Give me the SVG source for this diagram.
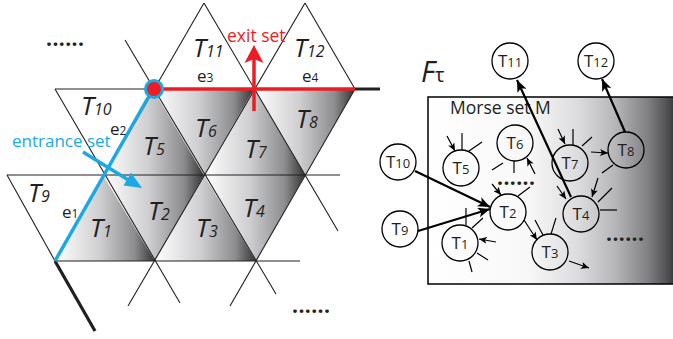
<svg xmlns="http://www.w3.org/2000/svg" width="673" height="339" viewBox="0 0 673 339">
<defs>
<linearGradient id="tri" x1="0" y1="0" x2="1" y2="0">
<stop offset="0" stop-color="#ffffff"/>
<stop offset="0.45" stop-color="#cfcfd1"/>
<stop offset="0.8" stop-color="#8c8c8e"/>
<stop offset="1" stop-color="#333333"/>
</linearGradient>
<linearGradient id="morse" x1="0" y1="0" x2="1" y2="0">
<stop offset="0" stop-color="#ffffff"/>
<stop offset="0.4" stop-color="#f8f8f8"/>
<stop offset="0.6" stop-color="#dcdcde"/>
<stop offset="0.75" stop-color="#b6b6b9"/>
<stop offset="0.88" stop-color="#808083"/>
<stop offset="0.95" stop-color="#555557"/>
<stop offset="1" stop-color="#2e2e2e"/>
</linearGradient>
<marker id="a" markerUnits="userSpaceOnUse" markerWidth="9" markerHeight="7" refX="8" refY="3.5" orient="auto">
<path d="M0,0 L8,3.5 L0,7 L2,3.5 z" fill="#000"/>
</marker>
<marker id="A" markerUnits="userSpaceOnUse" markerWidth="13" markerHeight="10" refX="12" refY="5" orient="auto">
<path d="M0,0 L12,5 L0,10 L3,5 z" fill="#000"/>
</marker>
</defs>
<style>
.ln{stroke:#231f20;stroke-width:1.1;fill:none}
.tl{font-family:"Open Sans","DejaVu Sans",sans-serif;font-style:italic;font-size:26px;fill:#231f20}
.tl tspan{font-size:16px}
.el{font-family:"Open Sans","DejaVu Sans",sans-serif;font-size:17px;fill:#231f20}
.el tspan{font-size:12px}
.dots{font-family:"Open Sans","DejaVu Sans",sans-serif;font-size:21px;font-weight:bold;fill:#231f20;letter-spacing:0.4px}
.node circle{fill:none;stroke:#000;stroke-width:1.3}
.node text{font-family:"Open Sans","DejaVu Sans",sans-serif;font-size:17px;fill:#231f20;text-anchor:middle}
.node text tspan{font-size:13px}
.thin{stroke:#000;stroke-width:1.2;fill:none}
.thick{stroke:#000;stroke-width:2.2;fill:none}
</style>

<!-- left: shaded triangles -->
<g id="shaded">
<polygon points="103,175 55,261 155,261" fill="url(#tri)"/>
<polygon points="103,175 204,175 155,261" fill="url(#tri)"/>
<polygon points="204,175 155,261 256,261" fill="url(#tri)"/>
<polygon points="204,175 305,175 256,261" fill="url(#tri)"/>
<polygon points="153,89 103,175 204,175" fill="url(#tri)"/>
<polygon points="153,89 254,89 204,175" fill="url(#tri)"/>
<polygon points="254,89 204,175 305,175" fill="url(#tri)"/>
<polygon points="254,89 355,89 305,175" fill="url(#tri)"/>
</g>

<g id="grid">
<line class="ln" x1="55" y1="89" x2="355" y2="89"/>
<line class="ln" x1="7" y1="175" x2="340" y2="175"/>
<line class="ln" x1="55" y1="261" x2="300" y2="261"/>
<line class="ln" x1="55" y1="261" x2="204" y2="3"/>
<line class="ln" x1="128" y1="306" x2="305" y2="3"/>
<line class="ln" x1="230" y1="306" x2="355" y2="89"/>
<line class="ln" x1="7" y1="175" x2="55" y2="261"/>
<line class="ln" x1="55" y1="89" x2="180" y2="303"/>
<line class="ln" x1="125" y1="40" x2="276" y2="294"/>
<line class="ln" x1="204" y1="3" x2="338" y2="231"/>
<line class="ln" x1="305" y1="3" x2="355" y2="89"/>
<line x1="55" y1="261" x2="95" y2="331" stroke="#231f20" stroke-width="3.2"/>
<line x1="353" y1="89" x2="380" y2="89" stroke="#231f20" stroke-width="3"/>
</g>

<g id="entrance">
<line x1="55" y1="261" x2="153" y2="89" stroke="#1ba9e1" stroke-width="3.5"/>
<line x1="83" y1="152" x2="130" y2="181" stroke="#1ba9e1" stroke-width="3.5"/>
<polygon points="142,188 123.5,185.5 127.5,179 131,172.5" fill="#1ba9e1"/>
<text x="12" y="147" font-family="'Open Sans','DejaVu Sans',sans-serif" font-size="17" fill="#1ba9e1">entrance set</text>
</g>

<g id="exit">
<line x1="162" y1="89" x2="355" y2="89" stroke="#ed1c24" stroke-width="3.5"/>
<line x1="254" y1="111" x2="254" y2="58" stroke="#ed1c24" stroke-width="3.5"/>
<polygon points="254,45 263.5,63 254,59 244.5,63" fill="#ed1c24"/>
<text x="227" y="42" font-family="'Open Sans','DejaVu Sans',sans-serif" font-size="17.5" fill="#ed1c24">exit set</text>
<circle cx="154" cy="89" r="8.5" fill="#ed1c24" stroke="#1ba9e1" stroke-width="3"/>
</g>

<g id="left-labels">
<text class="tl" x="193" y="57">T<tspan>11</tspan></text>
<text class="tl" x="294" y="57">T<tspan>12</tspan></text>
<text class="tl" x="81" y="115">T<tspan>10</tspan></text>
<text class="tl" x="143" y="155">T<tspan>5</tspan></text>
<text class="tl" x="195" y="137">T<tspan>6</tspan></text>
<text class="tl" x="245" y="158">T<tspan>7</tspan></text>
<text class="tl" x="296" y="128">T<tspan>8</tspan></text>
<text class="tl" x="28" y="202">T<tspan>9</tspan></text>
<text class="tl" x="90" y="237">T<tspan>1</tspan></text>
<text class="tl" x="148" y="220">T<tspan>2</tspan></text>
<text class="tl" x="196" y="237">T<tspan>3</tspan></text>
<text class="tl" x="243" y="217">T<tspan>4</tspan></text>
<text class="el" x="197" y="82">e<tspan>3</tspan></text>
<text class="el" x="302" y="82">e<tspan>4</tspan></text>
<text class="el" x="110" y="135">e<tspan>2</tspan></text>
<text class="el" x="62" y="218">e<tspan>1</tspan></text>
<text class="dots" x="46" y="46">......</text>
<text class="dots" x="292" y="313">......</text>
</g>

<!-- right -->
<g id="morse-set">
<rect x="428" y="97" width="250" height="187" fill="url(#morse)" stroke="#000" stroke-width="1.5"/>
<text x="450" y="114" font-family="'Open Sans','DejaVu Sans',sans-serif" font-size="17.5" fill="#231f20">Morse set  M</text>
<text x="421" y="82" font-family="'Open Sans','DejaVu Sans',sans-serif" font-size="29" font-style="italic" fill="#231f20">F<tspan font-size="20" font-style="normal">τ</tspan></text>
<text class="dots" x="497" y="185">......</text>
<text class="dots" x="606" y="241">......</text>
</g>

<g id="connectors">
<line class="thick" x1="415" y1="171" x2="490" y2="207" marker-end="url(#A)"/>
<line class="thick" x1="418" y1="231" x2="490" y2="209" marker-end="url(#A)"/>
<line class="thick" x1="571" y1="197" x2="517" y2="80" marker-end="url(#A)"/>
<line class="thick" x1="625" y1="132" x2="602" y2="79" marker-end="url(#A)"/>
<line class="thin" x1="447" y1="136" x2="455" y2="151" marker-end="url(#a)"/>
<line class="thin" x1="535" y1="174" x2="527" y2="158" marker-end="url(#a)"/>
<line class="thin" x1="558" y1="129" x2="565" y2="144" marker-end="url(#a)"/>
<line class="thin" x1="591" y1="152" x2="608" y2="153" marker-end="url(#a)"/>
<line class="thin" x1="557" y1="186" x2="566" y2="199" marker-end="url(#a)"/>
<line class="thin" x1="598" y1="178" x2="592" y2="197" marker-end="url(#a)"/>
<line class="thin" x1="492" y1="184" x2="501" y2="195" marker-end="url(#a)"/>
<line class="thin" x1="524" y1="220" x2="537" y2="240" marker-end="url(#a)"/>
<line class="thin" x1="496" y1="242" x2="479" y2="239" marker-end="url(#a)"/>
<line class="thin" x1="569" y1="261" x2="589" y2="268" marker-end="url(#a)"/>
<line class="thin" x1="462" y1="133" x2="462" y2="150"/>
<line class="thin" x1="469" y1="151" x2="482" y2="142"/>
<line class="thin" x1="492" y1="170" x2="503" y2="163"/>
<line class="thin" x1="514" y1="161" x2="514" y2="173"/>
<line class="thin" x1="573" y1="129" x2="573" y2="145"/>
<line class="thin" x1="582" y1="146" x2="592" y2="137"/>
<line class="thin" x1="602" y1="173" x2="613" y2="165"/>
<line class="thin" x1="598" y1="202" x2="612" y2="188"/>
<line class="thin" x1="600" y1="210" x2="617" y2="210"/>
<line class="thin" x1="518" y1="196" x2="530" y2="187"/>
<line class="thin" x1="535" y1="220" x2="543" y2="235"/>
<line class="thin" x1="556" y1="218" x2="551" y2="234"/>
<line class="thin" x1="466" y1="208" x2="466" y2="225"/>
<line class="thin" x1="472" y1="228" x2="483" y2="218"/>
<line class="thin" x1="477" y1="253" x2="488" y2="260"/>
<line class="thin" x1="469" y1="261" x2="472" y2="272"/>
</g>

<g id="n11" class="node"><circle cx="510" cy="61" r="18"/><text x="510" y="67">T<tspan>11</tspan></text></g>
<g id="n12" class="node"><circle cx="596" cy="61" r="18"/><text x="596" y="67">T<tspan>12</tspan></text></g>
<g id="n6" class="node"><circle cx="515" cy="143" r="18"/><text x="515" y="149">T<tspan>6</tspan></text></g>
<g id="n5" class="node"><circle cx="461" cy="168" r="18"/><text x="461" y="174">T<tspan>5</tspan></text></g>
<g id="n7" class="node"><circle cx="570" cy="163" r="18"/><text x="570" y="169">T<tspan>7</tspan></text></g>
<g id="n8" class="node"><circle cx="626" cy="150" r="18"/><text x="626" y="156">T<tspan>8</tspan></text></g>
<g id="n10" class="node"><circle cx="398" cy="162" r="18"/><text x="398" y="168">T<tspan>10</tspan></text></g>
<g id="n9" class="node"><circle cx="400" cy="229" r="18"/><text x="400" y="235">T<tspan>9</tspan></text></g>
<g id="n2" class="node"><circle cx="508" cy="212" r="18"/><text x="508" y="218">T<tspan>2</tspan></text></g>
<g id="n1" class="node"><circle cx="460" cy="243" r="18"/><text x="460" y="249">T<tspan>1</tspan></text></g>
<g id="n4" class="node"><circle cx="581" cy="214" r="18"/><text x="581" y="220">T<tspan>4</tspan></text></g>
<g id="n3" class="node"><circle cx="550" cy="252" r="18"/><text x="550" y="258">T<tspan>3</tspan></text></g>
</svg>
